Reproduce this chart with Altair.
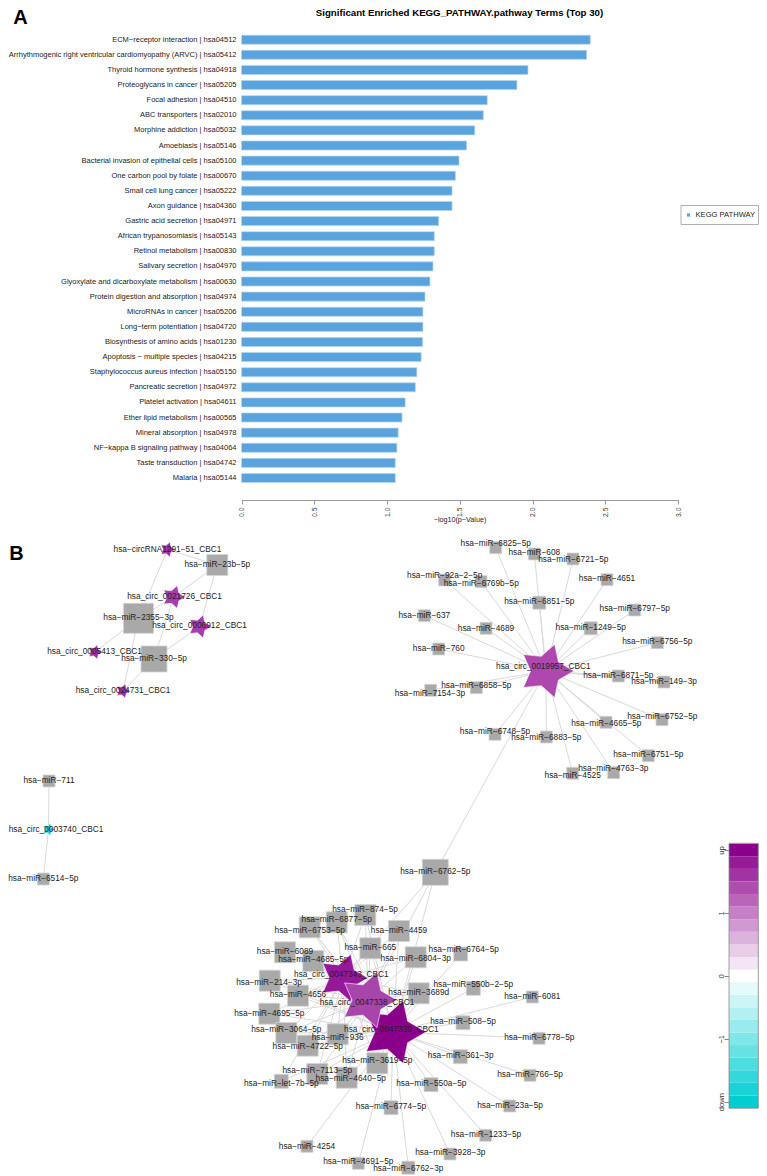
import altair as alt
import pandas as pd

M = "\u2212"
def mn(s):
    return s.replace("-", M)

FONT = "Liberation Sans"

# ---- panel A values
terms = ["ECM-receptor interaction | hsa04512",
 "Arrhythmogenic right ventricular cardiomyopathy (ARVC) | hsa05412",
 "Thyroid hormone synthesis | hsa04918", "Proteoglycans in cancer | hsa05205",
 "Focal adhesion | hsa04510", "ABC transporters | hsa02010",
 "Morphine addiction | hsa05032", "Amoebiasis | hsa05146",
 "Bacterial invasion of epithelial cells | hsa05100", "One carbon pool by folate | hsa00670",
 "Small cell lung cancer | hsa05222", "Axon guidance | hsa04360",
 "Gastric acid secretion | hsa04971", "African trypanosomiasis | hsa05143",
 "Retinol metabolism | hsa00830", "Salivary secretion | hsa04970",
 "Glyoxylate and dicarboxylate metabolism | hsa00630", "Protein digestion and absorption | hsa04974",
 "MicroRNAs in cancer | hsa05206", "Long-term potentiation | hsa04720",
 "Biosynthesis of amino acids | hsa01230", "Apoptosis - multiple species | hsa04215",
 "Staphylococcus aureus infection | hsa05150", "Pancreatic secretion | hsa04972",
 "Platelet activation | hsa04611", "Ether lipid metabolism | hsa00565",
 "Mineral absorption | hsa04978", "NF-kappa B signaling pathway | hsa04064",
 "Taste transduction | hsa04742", "Malaria | hsa05144"]
terms = [mn(t) for t in terms]
log_p = [2.397, 2.372, 1.969, 1.893, 1.689, 1.662, 1.603, 1.547, 1.495, 1.470,
         1.447, 1.447, 1.355, 1.325, 1.325, 1.316, 1.295, 1.261, 1.247, 1.247,
         1.245, 1.235, 1.205, 1.195, 1.125, 1.103, 1.077, 1.068, 1.057, 1.057]

# ---- panel B: circRNA nodes: name, label x, label y, node x, node y, radius, colour
stars = [
 ("hsa-circRNA1291-51_CBC1", 167.5, 550, 167.5, 549.5, 8, "#A32FA8"),
 ("hsa_circ_0021726_CBC1", 174.5, 597, 173.5, 597, 12, "#A63CB0"),
 ("hsa_circ_0006912_CBC1", 199.5, 626, 199.5, 626.5, 12, "#A63CB0"),
 ("hsa_circ_0005413_CBC1", 94.5, 651.5, 95, 652, 7.5, "#A32FA8"),
 ("hsa_circ_0024731_CBC1", 123, 691, 123, 691, 7.5, "#A32FA8"),
 ("hsa_circ_0003740_CBC1", 56, 829.5, 48.5, 829.5, 6.5, "#1FD3D6"),
 ("hsa_circ_0019957_CBC1", 543.3, 667.3, 546, 671, 28, "#AF48AE"),
 ("hsa_circ_0047343_CBC1", 341.3, 975, 343, 978, 25, "#96189A"),
 ("hsa_circ_0047339_CBC1", 391.3, 1030, 393, 1032, 33, "#8B008B"),
 ("hsa_circ_0047338_CBC1", 367, 1002.7, 368, 1000, 29, "#A845AB"),
]

# miRNA nodes: name, label x, label y, node x, node y, side
mirs = [
 ("23b-5p", 217.3, 565, 217.3, 565, 21), ("2355-3p", 138.5, 617.5, 138.5, 618.3, 30),
 ("330-5p", 154, 659, 154, 659, 26), ("711", 49, 781, 49, 781, 12),
 ("6514-5p", 43.3, 879, 43.3, 879, 12),
 ("6825-5p", 495.7, 544, 495.7, 547.7, 12), ("608", 534.3, 552.7, 534.3, 554, 12),
 ("6721-5p", 573.3, 560, 573, 559, 12), ("92a-2-5p", 444.7, 576, 444.7, 580, 12),
 ("6769b-5p", 481.3, 584, 481, 581.7, 12), ("4651", 607, 579, 607, 579.7, 12),
 ("6851-5p", 539.3, 602.3, 539.3, 602.7, 13), ("6797-5p", 634.7, 609.3, 634.7, 610, 12),
 ("637", 424.3, 615.7, 424.3, 615.7, 12), ("4689", 486, 629, 486, 628.3, 12),
 ("1249-5p", 590.7, 628, 590.7, 628.3, 13), ("6756-5p", 657.3, 642.3, 657.3, 642.7, 12),
 ("760", 438.7, 649, 438.7, 649, 12), ("6871-5p", 618.3, 675.7, 618.3, 676, 12),
 ("149-3p", 664, 682, 664, 682, 12), ("6858-5p", 476.3, 685.7, 476.3, 687.7, 12),
 ("7154-3p", 430, 693.7, 430.7, 690.3, 12), ("4665-5p", 606.3, 724.3, 606, 722.3, 12),
 ("6752-5p", 662.3, 717.3, 662, 719.7, 12), ("6748-5p", 495, 732, 495, 734.3, 12),
 ("6883-5p", 546.3, 738.3, 546.3, 737, 12), ("6751-5p", 648.3, 755.3, 648.3, 755.7, 12),
 ("4763-3p", 613.3, 769.3, 613.7, 772.7, 12), ("4525", 572.7, 776.3, 572.7, 773.3, 12),
 ("6762-5p", 435.3, 871.7, 435.3, 872.3, 26),
 ("874-5p", 365, 910, 365.3, 915, 21), ("6877-5p", 336.7, 920, 336.7, 922.3, 21),
 ("6753-5p", 309.7, 931.3, 309.7, 927.3, 21), ("4459", 399, 931, 399, 931, 21),
 ("665", 370.3, 948.3, 370.3, 948.3, 21), ("6089", 285, 952.3, 285, 952.3, 21),
 ("4685-5p", 313.3, 960.3, 313.3, 961, 21), ("6804-3p", 415.7, 959, 415.7, 957.3, 21),
 ("6764-5p", 463.7, 950, 460.7, 954, 14), ("214-3p", 269, 982.7, 269.7, 980.7, 21),
 ("4656", 298, 995, 298, 995.7, 21), ("3689d", 418.7, 992.7, 418.7, 993.3, 21),
 ("550b-2-5p", 473.3, 985, 473.3, 988.3, 14), ("6081", 532.3, 997, 532.3, 997, 12),
 ("4695-5p", 269.3, 1013.7, 269.3, 1013.7, 21), ("508-5p", 463, 1022.3, 463, 1022.7, 14),
 ("6778-5p", 539.3, 1037.7, 539, 1038.3, 12), ("3064-5p", 286.3, 1030.3, 286.3, 1033, 21),
 ("936", 337.7, 1038.3, 337.7, 1034.3, 21), ("4722-5p", 307.7, 1047.3, 307.7, 1045.7, 21),
 ("361-3p", 460.7, 1056, 460.3, 1056.7, 14), ("3619-5p", 377.3, 1061, 377.3, 1063.3, 21),
 ("766-5p", 530, 1075, 530, 1075.3, 12), ("7113-5p", 317.3, 1070.7, 317.3, 1074, 21),
 ("4640-5p", 350.7, 1079, 346.7, 1077.7, 21), ("let-7b-5p", 281.3, 1084, 281.3, 1081.3, 14),
 ("550a-5p", 431.3, 1084.3, 431, 1084.7, 14), ("23a-5p", 510, 1106, 509.7, 1106, 12),
 ("6774-5p", 391, 1107, 391, 1107.7, 14), ("1233-5p", 486, 1135, 485.7, 1135.3, 12),
 ("4254", 307, 1146.7, 307, 1146.3, 12), ("3928-3p", 450.3, 1153.3, 450, 1154, 12),
 ("4691-5p", 358.3, 1162.3, 358.3, 1163.3, 12), ("6762-3p", 408.3, 1169.3, 408.3, 1167.7, 13),
]

C19 = "hsa_circ_0019957_CBC1"
C43 = "hsa_circ_0047343_CBC1"
C38 = "hsa_circ_0047338_CBC1"
C39 = "hsa_circ_0047339_CBC1"
links = {
 "hsa-circRNA1291-51_CBC1": ["23b-5p", "2355-3p"],
 "hsa_circ_0021726_CBC1": ["23b-5p", "2355-3p", "330-5p"],
 "hsa_circ_0006912_CBC1": ["23b-5p", "330-5p"],
 "hsa_circ_0005413_CBC1": ["2355-3p"],
 "hsa_circ_0024731_CBC1": ["2355-3p", "330-5p"],
 "hsa_circ_0003740_CBC1": ["711", "6514-5p"],
 C19: ["6825-5p", "608", "6721-5p", "92a-2-5p", "6769b-5p", "4651", "6851-5p", "6797-5p", "637",
       "4689", "1249-5p", "6756-5p", "760", "6871-5p", "149-3p", "6858-5p", "7154-3p", "4665-5p",
       "6752-5p", "6748-5p", "6883-5p", "6751-5p", "4763-3p", "4525", "6762-5p"],
 C43: ["6762-5p", "874-5p", "6877-5p", "6753-5p", "4459", "665", "6089", "4685-5p", "6804-3p",
       "214-3p", "4656", "3689d", "4695-5p", "3064-5p", "936", "4722-5p", "7113-5p", "4640-5p",
       "let-7b-5p", "3619-5p"],
 C38: ["6762-5p", "874-5p", "6877-5p", "6753-5p", "4459", "665", "6089", "4685-5p", "6804-3p",
       "214-3p", "4656", "3689d", "4695-5p", "3064-5p", "936", "4722-5p", "7113-5p", "4640-5p",
       "3619-5p"],
 C39: ["6762-5p", "874-5p", "6877-5p", "6753-5p", "4459", "665", "4685-5p", "6804-3p", "6764-5p",
       "214-3p", "4656", "3689d", "550b-2-5p", "6081", "4695-5p", "508-5p", "6778-5p", "3064-5p",
       "936", "4722-5p", "361-3p", "3619-5p", "766-5p", "7113-5p", "4640-5p", "let-7b-5p", "550a-5p",
       "23a-5p", "6774-5p", "1233-5p", "4254", "3928-3p", "4691-5p", "6762-3p"],
}

# colour key
key_values = [round(-2 + 0.2 * i, 1) for i in range(21)]
key_ticks = [-2, -1, 0, 1, 2]

# annotations: text, x, y, size, weight, align
notes = [
 ("A", 20.5, 18, 20, "bold", "center"),
 ("B", 16.5, 553.5, 20, "bold", "center"),
 ("Significant Enriched KEGG_PATHWAY.pathway Terms (Top 30)", 459.5, 13, 9.7, "bold", "center"),
 (mn("-log10(p-Value)"), 460, 520, 7.2, "normal", "center"),
 ("KEGG PATHWAY", 695.5, 215, 7.6, "normal", "left"),
]

# ---- tables
star_df = pd.DataFrame(stars, columns=["name", "lx", "ly", "x", "y", "r", "c"])
star_df["name"] = star_df["name"].map(mn)
star_df["s"] = (star_df["r"] * 2) ** 2
mir_df = pd.DataFrame(mirs, columns=["name", "lx", "ly", "x", "y", "side"])
mir_df["s"] = mir_df["side"] ** 2
mir_df["label"] = ("hsa-miR-" + mir_df["name"]).map(mn)

sp = {s[0]: (s[3], s[4]) for s in stars}
mp = {m[0]: (m[3], m[4]) for m in mirs}
edge_rows = []
for st, ms in links.items():
    for m in ms:
        edge_rows.append({"x": sp[st][0], "y": sp[st][1], "x2": mp[m][0], "y2": mp[m][1]})
edge_df = pd.DataFrame(edge_rows)

W, H = 751, 1168
sx = alt.Scale(domain=[8, 759], range=[0, W], nice=False, zero=False)
sy = alt.Scale(domain=[8, 1176], range=[0, H], nice=False, zero=False)
X = lambda f: alt.X(f, type="quantitative", scale=sx, axis=None)
Y = lambda f: alt.Y(f, type="quantitative", scale=sy, axis=None)

# bars
bar_df = pd.DataFrame({"term": terms, "v": log_p})
bars = alt.Chart(bar_df).mark_bar(color="#5BA3DC", stroke="#B4D5EE", strokeWidth=0.7).encode(
    x=alt.X("v:Q", scale=alt.Scale(domain=[0, 3], range=[233.5, 670], nice=False),
            axis=alt.Axis(values=[0, 0.5, 1, 1.5, 2, 2.5, 3], format=".1f", title=None,
                          orient="bottom", offset=-676, grid=False, labelAngle=270,
                          labelFontSize=6.8, labelFont=FONT, labelColor="#333", labelPadding=3,
                          tickColor="#999", domainColor="#999", tickSize=4, labelBaseline="middle",
                          labelAlign="right")),
    y=alt.Y("term:N", sort=None,
            scale=alt.Scale(domain=terms, range=[24.15, 477.55], paddingInner=0.4, paddingOuter=0.2),
            axis=alt.Axis(title=None, orient="left", offset=-233.5, grid=False, domain=False, ticks=False,
                          labelFontSize=7.5, labelFont=FONT, labelColor="#222", labelPadding=5.5,
                          labelLimit=400)),
)

edges = alt.Chart(edge_df).mark_rule(color="#D9D9D9", strokeWidth=1).encode(
    x=X("x"), y=Y("y"), x2="x2:Q", y2="y2:Q")
squares = alt.Chart(mir_df).mark_point(shape="square", filled=True, fill="#A9A9A9", opacity=1,
                                       stroke="#D4D4D4", strokeWidth=0.8).encode(
    x=X("x"), y=Y("y"), size=alt.Size("s:Q", scale=None, legend=None))
STAR = ("M1,0L.445,.323L.309,.951L-.170,.523L-.809,.588L-.55,0L-.809,-.588"
        "L-.170,-.523L.309,-.951L.445,-.323Z")
star_marks = alt.Chart(star_df).mark_point(shape=STAR, filled=True, opacity=1, stroke="#FFFFFF",
                                           strokeWidth=0.6).encode(
    x=X("x"), y=Y("y"), size=alt.Size("s:Q", scale=None, legend=None),
    fill=alt.Fill("c:N", scale=None, legend=None))
mir_text = alt.Chart(mir_df).mark_text(font=FONT, fontSize=8.3, color="#222").encode(
    x=X("lx"), y=Y("ly"), text="label:N")
star_text = alt.Chart(star_df).mark_text(font=FONT, fontSize=8.3, color="#222").encode(
    x=X("lx"), y=Y("ly"), text="name:N")

# colour key
key_df = pd.DataFrame({"v": key_values})
key_df["lo"] = key_df["v"] - 0.1
key_df["hi"] = key_df["v"] + 0.1
key_scale = alt.Scale(domain=[-2, 2], range=[1093.7, 842], nice=False, zero=False)
label_expr = ("datum.value==2?'up':datum.value==-2?'down':datum.value==-1?'" + M + "1':"
              "datum.value==1?'1':'0'")
key = alt.Chart(key_df).mark_rect().encode(
    x=alt.value(721), x2=alt.value(750.3),
    y=alt.Y("lo:Q", scale=key_scale,
            axis=alt.Axis(values=key_ticks, labelExpr=label_expr, title=None, orient="left", offset=-721,
                          grid=False, domain=False, tickSize=5, tickColor="#888", labelAngle=270,
                          labelFontSize=7.6, labelFont=FONT, labelColor="#333", labelPadding=3,
                          labelAlign="center", labelBaseline="middle")),
    y2="hi:Q",
    color=alt.Color("v:Q", legend=None,
                    scale=alt.Scale(domain=[-2, 0, 2], range=["#00CED1", "#FFFFFF", "#8B008B"],
                                    interpolate="rgb")),
)
frame_df = pd.DataFrame({"x": [729], "x2": [758.3], "y": [843.3], "y2": [1108.3]})
frame = alt.Chart(frame_df).mark_rect(fill=None, stroke="#888", strokeWidth=0.8).encode(
    x=X("x"), x2="x2:Q", y=Y("y"), y2="y2:Q")

# legend of panel A
box_df = pd.DataFrame({"x": [681], "x2": [758.5], "y": [205.5], "y2": [224.5]})
box = alt.Chart(box_df).mark_rect(fill="white", stroke="#B0B0B0", strokeWidth=1).encode(
    x=X("x"), x2="x2:Q", y=Y("y"), y2="y2:Q")
swatch = alt.Chart(pd.DataFrame({"x": [688.5], "y": [215]})).mark_point(
    shape="square", filled=True, fill="#5BA3DC", size=10, opacity=1).encode(x=X("x"), y=Y("y"))

note_df = pd.DataFrame(notes, columns=["t", "x", "y", "fs", "fw", "al"])
note_layers = []
for (fw, al, fs), g in note_df.groupby(["fw", "al", "fs"], sort=False):
    note_layers.append(alt.Chart(g).mark_text(font=FONT, fontSize=fs, fontWeight=fw, align=al,
                                              color="#000" if fw == "bold" else "#222").encode(
        x=X("x"), y=Y("y"), text="t:N"))

chart = alt.layer(bars, edges, squares, star_marks, mir_text, star_text, key, frame, box, swatch,
                  *note_layers).resolve_scale(
    x="independent", y="independent", color="independent", size="independent", fill="independent"
).properties(width=W, height=H, padding=0,
             autosize=alt.AutoSizeParams(type="none")
).configure_view(stroke=None).configure_axis(labelOverlap=False)

chart.save("out.html", embed_options={"renderer": "svg", "actions": False})
